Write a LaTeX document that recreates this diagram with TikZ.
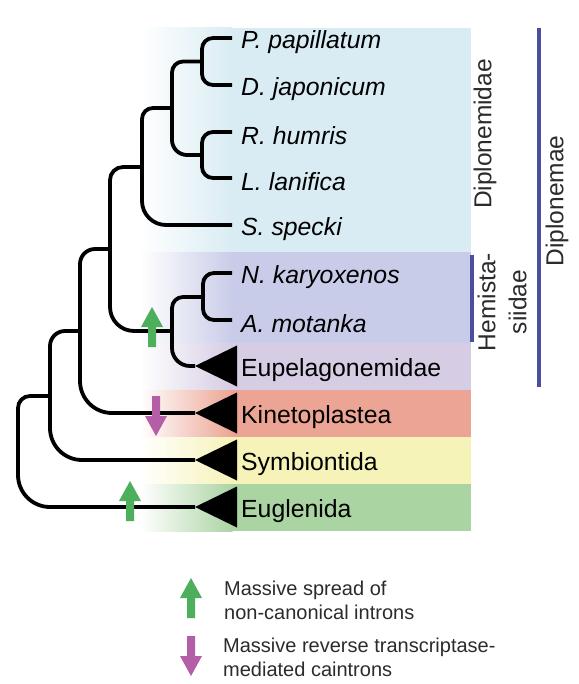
\documentclass[tikz,border=0pt]{standalone}
\usepackage{fontspec}
\setmainfont{Liberation Sans}
\usetikzlibrary{positioning}
\definecolor{diplo}{HTML}{D9ECF3}
\definecolor{hemi}{HTML}{C9CCE8}
\definecolor{eupel}{HTML}{D6CCE3}
\definecolor{kineto}{HTML}{ECA594}
\definecolor{symbio}{HTML}{F6F3B8}
\definecolor{eugle}{HTML}{ABD4A3}
\definecolor{spreadgreen}{HTML}{4DAE5B}
\definecolor{caintronpurple}{HTML}{B35EA6}
\definecolor{barblue}{HTML}{4B4E9D}
\definecolor{labelgray}{HTML}{2B2B2B}
\begin{document}
\begin{tikzpicture}[x=1pt,y=-1pt,
  branch/.style={line width=3.8pt,rounded corners=11pt},
  taxon/.style={inner sep=0pt,font=\fontsize{24.8}{28}\selectfont\itshape},
  clade/.style={inner sep=0pt,font=\fontsize{24.8}{28}\selectfont},
  group/.style={inner sep=0pt,rotate=90,text=labelgray,font=\fontsize{24.5}{31}\selectfont},
  bar/.style={draw=barblue,line width=4.5pt},
  note/.style={anchor=west,inner sep=0pt,align=left,text=labelgray,font=\fontsize{20}{24}\selectfont},
  spread/.pic={\fill[spreadgreen] (-4,20) -- (-11,20) -- (0,0) -- (11,20) -- (4,20) -- (4,40) -- (-4,40) -- cycle;},
  caintron/.pic={\fill[caintronpurple] (-4,0) -- (4,0) -- (4,20) -- (11,20) -- (0,40) -- (-11,20) -- (-4,20) -- cycle;}]

  \useasboundingbox (0,0) rectangle (578,684);

  % coloured bands
  \foreach \col/\top/\bot in {diplo/28/252.5,hemi/252.5/343,eupel/343/390,
      kineto/390/437,symbio/437/484,eugle/484/531} {
    \fill[\col] (232,\top) rectangle (471,\bot);
    \shade[left color=white,right color=\col] (140,\top) rectangle (232.5,\bot);
  }

  % tips
  \coordinate (P) at (232,38);
  \coordinate (D) at (232,85);
  \coordinate (R) at (232,132);
  \coordinate (L) at (232,178);
  \coordinate (S) at (232,225);
  \coordinate (N) at (232,273);
  \coordinate (A) at (232,320);
  \coordinate (Eup) at (195,366);
  \coordinate (Kin) at (195,413);
  \coordinate (Sym) at (195,460);
  \coordinate (Eug) at (195,507);

  % inner nodes
  \coordinate (nPD) at (202,61.5);
  \coordinate (nRL) at (202,155);
  \coordinate (nPDRL) at (172,108);
  \coordinate (nDipl) at (142,167);
  \coordinate (nNA) at (203,297);
  \coordinate (nHE) at (172,331);
  \coordinate (nDiplonemea) at (110,249);
  \coordinate (nKin) at (80,331);
  \coordinate (nSym) at (50,396);
  \coordinate (root) at (18,451);

  \node[taxon,right=9pt of P,yshift=-4pt] (Pname) {P. papillatum};
  \node[taxon,right=9pt of D,yshift=-4pt] (Dname) {D. japonicum};
  \node[taxon,right=9pt of R,yshift=-4pt] (Rname) {R. humris};
  \node[taxon,right=9pt of L,yshift=-4pt] (Lname) {L. lanifica};
  \node[taxon,right=9pt of S,yshift=-4pt] (Sname) {S. specki};
  \node[taxon,right=9pt of N,yshift=-4pt] (Nname) {N. karyoxenos};
  \node[taxon,right=9pt of A,yshift=-4pt] (Aname) {A. motanka};

  % collapsed clades
  \foreach \c/\name in {Eup/Eupelagonemidae,Kin/Kinetoplastea,
      Sym/Symbiontida,Eug/Euglenida} {
    \fill (\c) -- ++(42,-20.5) -- ++(0,41) -- cycle;
    \node[clade,right=46pt of \c,yshift=-4pt] (\c-label) {\name};
  }

  % branches
  \draw[branch] (P) -| (nPD) |- (D);
  \draw[branch] (R) -| (nRL) |- (L);
  \draw[branch] (nPD) -| (nPDRL) [rounded corners=15pt] |- (nRL);
  \draw[branch] (nPDRL) -| (nDipl) [rounded corners=24pt] |- (S);
  \draw[branch] (N) -| (nNA) |- (A);
  \draw[branch] (nNA) -| (nHE) [rounded corners=18pt] |- (Eup);
  \draw[branch,rounded corners=13pt] (nDipl) -| (nDiplonemea) [rounded corners=24pt] |- (nHE);
  \draw[branch,rounded corners=15pt] (nDiplonemea) -| (nKin) [rounded corners=32pt] |- (Kin);
  \draw[branch,rounded corners=15pt] (nKin) -| (nSym) [rounded corners=32pt] |- (Sym);
  \draw[branch,rounded corners=12pt] (nSym) -| (root) [rounded corners=32pt] |- (Eug);

  % intron events
  \pic (upHemi) at (152,307) {spread};
  \pic (downKin) at (156,396) {caintron};
  \pic (upEug) at (130,481) {spread};

  % group labels
  \draw[bar] (472,255) -- (472,342);
  \draw[bar] (539,28) -- (539,387);
  \node[group] (Diplonemidae) at (485,134) {Diplonemidae};
  \node[group,align=center] (Hemistasiidae) at (502,302) {Hemista-\\siidae};
  \node[group] (Diplonemae) at (557,201) {Diplonemae};

  % legend
  \pic (spreadkey) at (191,578) {spread};
  \node[note] (spreadnote) at (224,600) {Massive spread of\\non-canonical introns};
  \pic (caintronkey) at (191,636) {caintron};
  \node[note] (caintronnote) at (223,657) {Massive reverse transcriptase-\\mediated caintrons};
\end{tikzpicture}
\end{document}
